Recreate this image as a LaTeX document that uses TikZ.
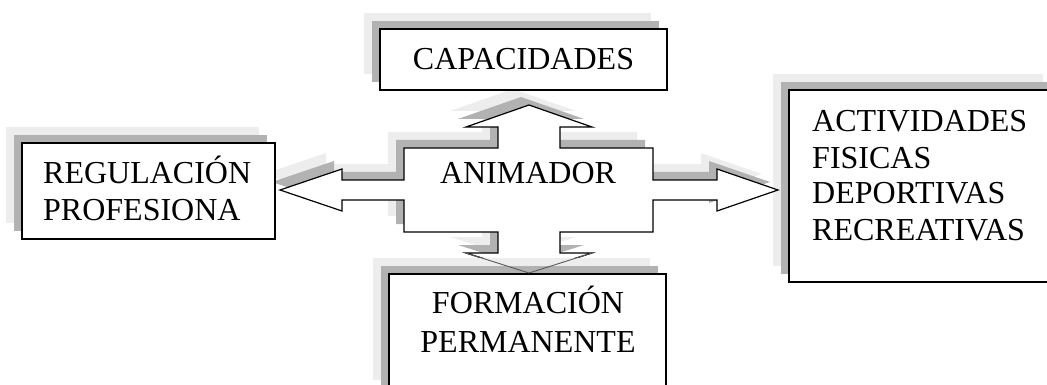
\documentclass[tikz,border=0pt]{standalone}
\usepackage{fontspec}
\setmainfont{Liberation Serif}
\usetikzlibrary{shadows}
\colorlet{sombraclara}{black!7}
\colorlet{sombraoscura}{black!30}
\tikzset{
caja/.style={draw,line width=1.4pt,fill=white,inner sep=0pt,
  general shadow={shadow xshift=-16pt,shadow yshift=16pt,fill=sombraclara},
  general shadow={shadow xshift=-8pt,shadow yshift=8pt,fill=sombraoscura}},
texto/.style={font=\fontsize{32}{37}\selectfont,inner sep=0pt,align=left},
flecha/.style={draw,line width=1.2pt,fill=white,line join=miter}}
% contorno de la flecha de cuatro puntas
\newcommand{\formaanimador}{(280,190) -- (342,169) -- (342,180) -- (404,180)
  -- (404,148) -- (498,148) -- (498,127) -- (466,127) -- (529,105) -- (592,127)
  -- (560,127) -- (560,148) -- (653,148) -- (653,180) -- (717,180) -- (717,169)
  -- (778,190) -- (717,211) -- (717,200) -- (653,200) -- (653,232) -- (560,232)
  -- (560,253) -- (592,253) -- (529,273) -- (466,253) -- (498,253) -- (498,232)
  -- (404,232) -- (404,200) -- (342,200) -- (342,211) -- cycle}

\begin{document}
\begin{tikzpicture}[x=1pt,y=-1pt]
\useasboundingbox (0,0) rectangle (1047,385);
\clip (0,0) rectangle (1047,385);

% sombras de la flecha
\fill[sombraclara,shift={(-16,-16)}] \formaanimador;
\fill[sombraoscura,shift={(-8,-8)}] \formaanimador;

\node[caja,minimum width=253,minimum height=96] (reg) at (148.5,191) {};
\node[caja,minimum width=287,minimum height=61,font=\fontsize{32}{37}\selectfont]
  (cap) at (523.5,59.5) {CAPACIDADES};
\node[caja,minimum width=270,minimum height=192] (act) at (924,186) {};

\path[flecha] \formaanimador;

\node[caja,minimum width=277,minimum height=122] (form) at (527.5,335) {};

\coordinate (izq) at (466,253);
\coordinate (punta) at (529,273);
\coordinate (der) at (592,253);
\draw[black!65,line width=0.9pt] (izq) -- (punta) -- (der);

% la linea base del nodo es la de su ultima linea
\node[texto,anchor=base west] (regtxt) at (43,220) {REGULACIÓN\\PROFESIONA};
\node[texto,font=\fontsize{32}{36}\selectfont,anchor=base west] (acttxt) at (812,240)
  {ACTIVIDADES\\FISICAS\\DEPORTIVAS\\RECREATIVAS};
\node[texto,font=\fontsize{32}{39}\selectfont,align=center,anchor=base] (formtxt)
  at (528,352) {FORMACIÓN\\PERMANENTE};
\node[texto,anchor=base] (animtxt) at (528,183) {ANIMADOR};
\end{tikzpicture}
\end{document}
